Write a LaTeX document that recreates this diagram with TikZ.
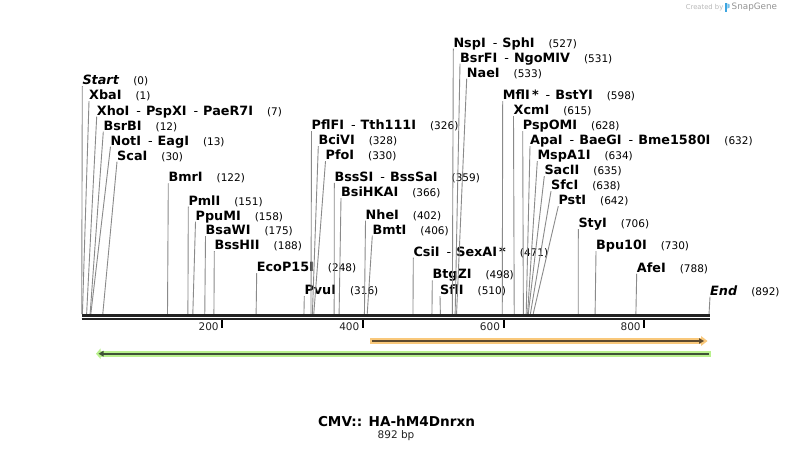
\documentclass[tikz,border=0pt]{standalone}
\usepackage{fontspec}
\setmainfont{DejaVu Sans}
\definecolor{cutc}{HTML}{8A8A8A}
\definecolor{bbc}{HTML}{222222}
\definecolor{orgL}{HTML}{F9C87B}
\definecolor{orgD}{HTML}{5E4A2E}
\definecolor{grnL}{HTML}{B9F18D}
\definecolor{grnD}{HTML}{3F5237}
\definecolor{logoblue}{HTML}{3DA5E0}
\newcommand\dsh{\hspace{7bp}{\mdseries -}\hspace{5bp}}
\newcommand\pnum[1]{\hspace{14bp}{\mdseries\fontsize{10.5bp}{12bp}\selectfont(#1)}}
\newcommand\rsite[5]{%
  \node[lbl] (#1) at (#2,{#3+4.6}) {#4};
  \coordinate (#1s) at ({81.7+0.7033*#5},313.8);
  \draw[cutline] ([yshift=-1.6bp]#1.base west) -- (#1s);
}
\begin{document}
\begin{tikzpicture}[x=1bp,y=-1bp,
  lbl/.style={anchor=base west,inner sep=0,text=black,font=\fontsize{12.8bp}{14bp}\selectfont\bfseries},
  cutline/.style={draw=cutc,line width=0.9bp},
  ticklbl/.style={anchor=east,inner sep=0,text=bbc,font=\fontsize{10.5bp}{12bp}\selectfont},
]
\useasboundingbox[fill=white] (0,0) rectangle (793,453);
% restriction sites
\rsite{start}{82.3}{80}{\textit{Start}\pnum{0}}{0}
\rsite{xba}{89}{95}{XbaI\pnum{1}}{1}
\rsite{xho}{96.7}{110.5}{XhoI\dsh PspXI\dsh PaeR7I\pnum{7}}{7}
\rsite{bsrb}{103.3}{125.5}{BsrBI\pnum{12}}{12}
\rsite{not}{110.5}{140.5}{NotI\dsh EagI\pnum{13}}{13}
\rsite{sca}{117}{155.5}{ScaI\pnum{30}}{30}
\rsite{bmr}{168.3}{177.3}{BmrI\pnum{122}}{122}
\rsite{pml}{188.3}{200.5}{PmlI\pnum{151}}{151}
\rsite{ppu}{195.5}{215.5}{PpuMI\pnum{158}}{158}
\rsite{bsaw}{205.5}{230}{BsaWI\pnum{175}}{175}
\rsite{bsshii}{214.3}{245}{BssHII\pnum{188}}{188}
\rsite{ecop}{256.7}{267}{EcoP15I\pnum{248}}{248}
\rsite{pvu}{304.3}{290}{PvuI\pnum{316}}{316}
\rsite{pflf}{311.5}{125}{PflFI\dsh Tth111I\pnum{326}}{326}
\rsite{bciv}{318.3}{140}{BciVI\pnum{328}}{328}
\rsite{pfo}{325.5}{155}{PfoI\pnum{330}}{330}
\rsite{bsssi}{334.3}{176.7}{BssSI\dsh BssSaI\pnum{359}}{359}
\rsite{bsihk}{341}{192}{BsiHKAI\pnum{366}}{366}
\rsite{nhe}{365.5}{214.5}{NheI\pnum{402}}{402}
\rsite{bmt}{372.3}{229.5}{BmtI\pnum{406}}{406}
\rsite{csi}{413.3}{251.5}{CsiI\dsh SexAI\,*\pnum{471}}{471}
\rsite{btgz}{432.3}{274.3}{BtgZI\pnum{498}}{498}
\rsite{sfl}{440}{290}{SflI\pnum{510}}{510}
\rsite{nsp}{453.3}{42.5}{NspI\dsh SphI\pnum{527}}{527}
\rsite{bsrf}{460}{57.5}{BsrFI\dsh NgoMIV\pnum{531}}{531}
\rsite{nae}{466.7}{72.5}{NaeI\pnum{533}}{533}
\rsite{mfl}{502.7}{95}{MflI\,*\dsh BstYI\pnum{598}}{598}
\rsite{xcm}{513.5}{110}{XcmI\pnum{615}}{615}
\rsite{pspom}{522.7}{125}{PspOMI\pnum{628}}{628}
\rsite{apa}{530}{140}{ApaI\dsh BaeGI\dsh Bme1580I\pnum{632}}{632}
\rsite{mspa}{537.3}{155}{MspA1I\pnum{634}}{634}
\rsite{sac}{544.3}{170}{SacII\pnum{635}}{635}
\rsite{sfc}{551}{185}{SfcI\pnum{638}}{638}
\rsite{pst}{558.3}{200}{PstI\pnum{642}}{642}
\rsite{sty}{578.3}{223}{StyI\pnum{706}}{706}
\rsite{bpu}{596}{245}{Bpu10I\pnum{730}}{730}
\rsite{afe}{636.7}{267.5}{AfeI\pnum{788}}{788}
\rsite{end}{710}{290.5}{\textit{End}\pnum{892}}{892}
% backbone
\draw[bbc,line width=2.7bp] (81.7,315.3) -- (710.3,315.3);
\draw[bbc,line width=2.3bp] (81.7,319) -- (710.3,319);
% ticks
\foreach \p/\nm in {200/t2,400/t4,600/t6,800/t8}{
  \draw[black,line width=2bp] ({81.7+0.7033*\p},320) -- ({81.7+0.7033*\p},328);
  \node[ticklbl] (\nm) at ({81.7+0.7033*\p-3.5},327) {\p};
}
% orange feature (forward)
\fill[orgL] (370,337.7) rectangle (701,344.3);
\fill[orgL] (701,336) -- (707.5,341) -- (701,346) -- cycle;
\draw[orgD,line width=2bp] (372.3,341) -- (700,341);
\fill[orgD] (699,338.2) -- (704,341) -- (699,343.8) -- cycle;
% green feature (reverse)
\fill[grnL] (100,350.7) rectangle (710.7,356.7);
\fill[grnL] (100.5,348.5) -- (96,353.7) -- (100.5,358.9) -- cycle;
\draw[grnD,line width=2bp] (102,353.7) -- (709,353.7);
\fill[grnD] (103.5,350.8) -- (98.5,353.7) -- (103.5,356.6) -- cycle;
% title
\node[inner sep=0,font=\fontsize{13.6bp}{16bp}\selectfont\bfseries,text=black] (title) at (396.5,421.7) {CMV:: HA-hM4Dnrxn};
\node[inner sep=0,font=\fontsize{10.5bp}{12bp}\selectfont,text=bbc] (len) at (396,436) {892 bp};
% logo
\node[inner sep=0,anchor=east,font=\fontsize{6.8bp}{8bp}\selectfont,text=black!28] (created) at (723.5,7.5) {Created by};
\fill[logoblue] (724.8,3.3) rectangle (727.3,12.3);
\fill[logoblue!70] (727.3,3.3) -- (729.6,4.5) -- (729.6,7.5) -- (727.3,8.6) -- cycle;
\node[inner sep=0,anchor=west,font=\fontsize{8.8bp}{10bp}\selectfont,text=black!42] (snapgene) at (731.5,7.5) {SnapGene};
\end{tikzpicture}
\end{document}
